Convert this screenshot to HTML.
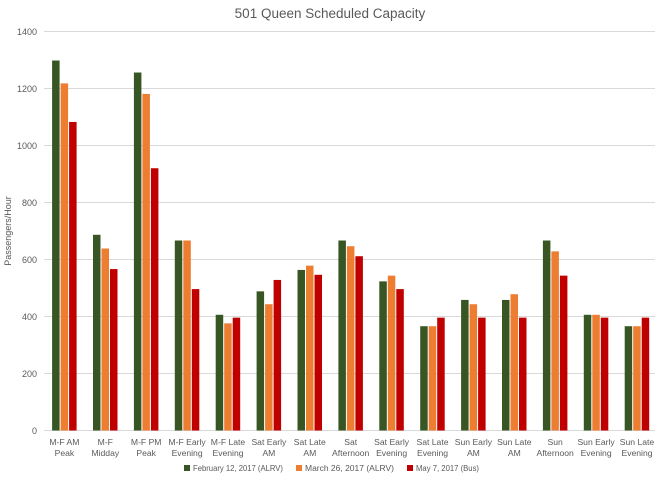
<!DOCTYPE html>
<html><head><meta charset="utf-8"><style>
body{margin:0;background:#fff}
svg{display:block;font-family:"Liberation Sans",sans-serif}
</style></head><body>
<svg id="s" width="660" height="485" xmlns="http://www.w3.org/2000/svg">
<rect width="660" height="485" fill="#fff"/>
<text x="330" y="18" text-anchor="middle" font-size="13.5" fill="#595959">501 Queen Scheduled Capacity</text>
<g stroke="#d9d9d9" stroke-width="1">
<line x1="44" x2="655" y1="31.5" y2="31.5"/>
<line x1="44" x2="655" y1="88.5" y2="88.5"/>
<line x1="44" x2="655" y1="145.5" y2="145.5"/>
<line x1="44" x2="655" y1="202.5" y2="202.5"/>
<line x1="44" x2="655" y1="259.5" y2="259.5"/>
<line x1="44" x2="655" y1="316.5" y2="316.5"/>
<line x1="44" x2="655" y1="373.5" y2="373.5"/>
<line x1="44" x2="655" y1="430.5" y2="430.5"/>
</g>
<g font-size="9" fill="#595959" text-anchor="end">
<text x="37" y="35">1400</text><text x="37" y="92">1200</text><text x="37" y="149">1000</text>
<text x="37" y="206">800</text><text x="37" y="263">600</text><text x="37" y="320">400</text>
<text x="37" y="377">200</text><text x="37" y="434">0</text>
</g>
<text transform="translate(11,231) rotate(-90)" text-anchor="middle" font-size="9" fill="#595959">Passengers/Hour</text>
<g id="bars"></g>
<g font-size="8.6" fill="#595959" text-anchor="middle">
<text x="64.4" y="445">M-F AM</text><text x="64.4" y="456">Peak</text>
<text x="105.3" y="445">M-F</text><text x="105.3" y="456">Midday</text>
<text x="146.2" y="445">M-F PM</text><text x="146.2" y="456">Peak</text>
<text x="187.1" y="445">M-F Early</text><text x="187.1" y="456">Evening</text>
<text x="228" y="445">M-F Late</text><text x="228" y="456">Evening</text>
<text x="268.9" y="445">Sat Early</text><text x="268.9" y="456">AM</text>
<text x="309.8" y="445">Sat Late</text><text x="309.8" y="456">AM</text>
<text x="350.7" y="445">Sat</text><text x="350.7" y="456">Afternoon</text>
<text x="391.6" y="445">Sat Early</text><text x="391.6" y="456">Evening</text>
<text x="432.5" y="445">Sat Late</text><text x="432.5" y="456">Evening</text>
<text x="473.4" y="445">Sun Early</text><text x="473.4" y="456">AM</text>
<text x="514.3" y="445">Sun Late</text><text x="514.3" y="456">AM</text>
<text x="555.2" y="445">Sun</text><text x="555.2" y="456">Afternoon</text>
<text x="596.1" y="445">Sun Early</text><text x="596.1" y="456">Evening</text>
<text x="637" y="445">Sun Late</text><text x="637" y="456">Evening</text>
</g>
<g font-size="8.6" fill="#595959">
<rect x="184" y="465" width="6" height="6" fill="#375623"/><text x="193" y="471" textLength="90" lengthAdjust="spacingAndGlyphs">February 12, 2017 (ALRV)</text>
<rect x="296" y="465" width="6" height="6" fill="#ED7D31"/><text x="305" y="471" textLength="89" lengthAdjust="spacingAndGlyphs">March 26, 2017 (ALRV)</text>
<rect x="407" y="465" width="6" height="6" fill="#C00000"/><text x="416" y="471" textLength="63" lengthAdjust="spacingAndGlyphs">May 7, 2017 (Bus)</text>
</g>
</svg>
<script>
var d=[[1295,1215,1080],[685,637,565],[1253,1178,918],[665,665,495],[405,375,395],[487,442,527],[562,577,545],[665,645,610],[522,542,495],[365,365,395],[457,442,395],[457,477,395],[665,627,542],[405,405,395],[365,365,395]];
var c=["#375623","#ED7D31","#C00000"],off=[-12.3,-3.8,4.7],g=document.getElementById("bars"),h="";
for(var i=0;i<15;i++){var cx=64.4+40.9*i;for(var j=0;j<3;j++){var hh=d[i][j]*0.2857;h+='<rect x="'+(cx+off[j])+'" y="'+(430.5-hh)+'" width="7.5" height="'+hh+'" fill="'+c[j]+'"/>';}}
g.innerHTML=h;
</script>
</body></html>
